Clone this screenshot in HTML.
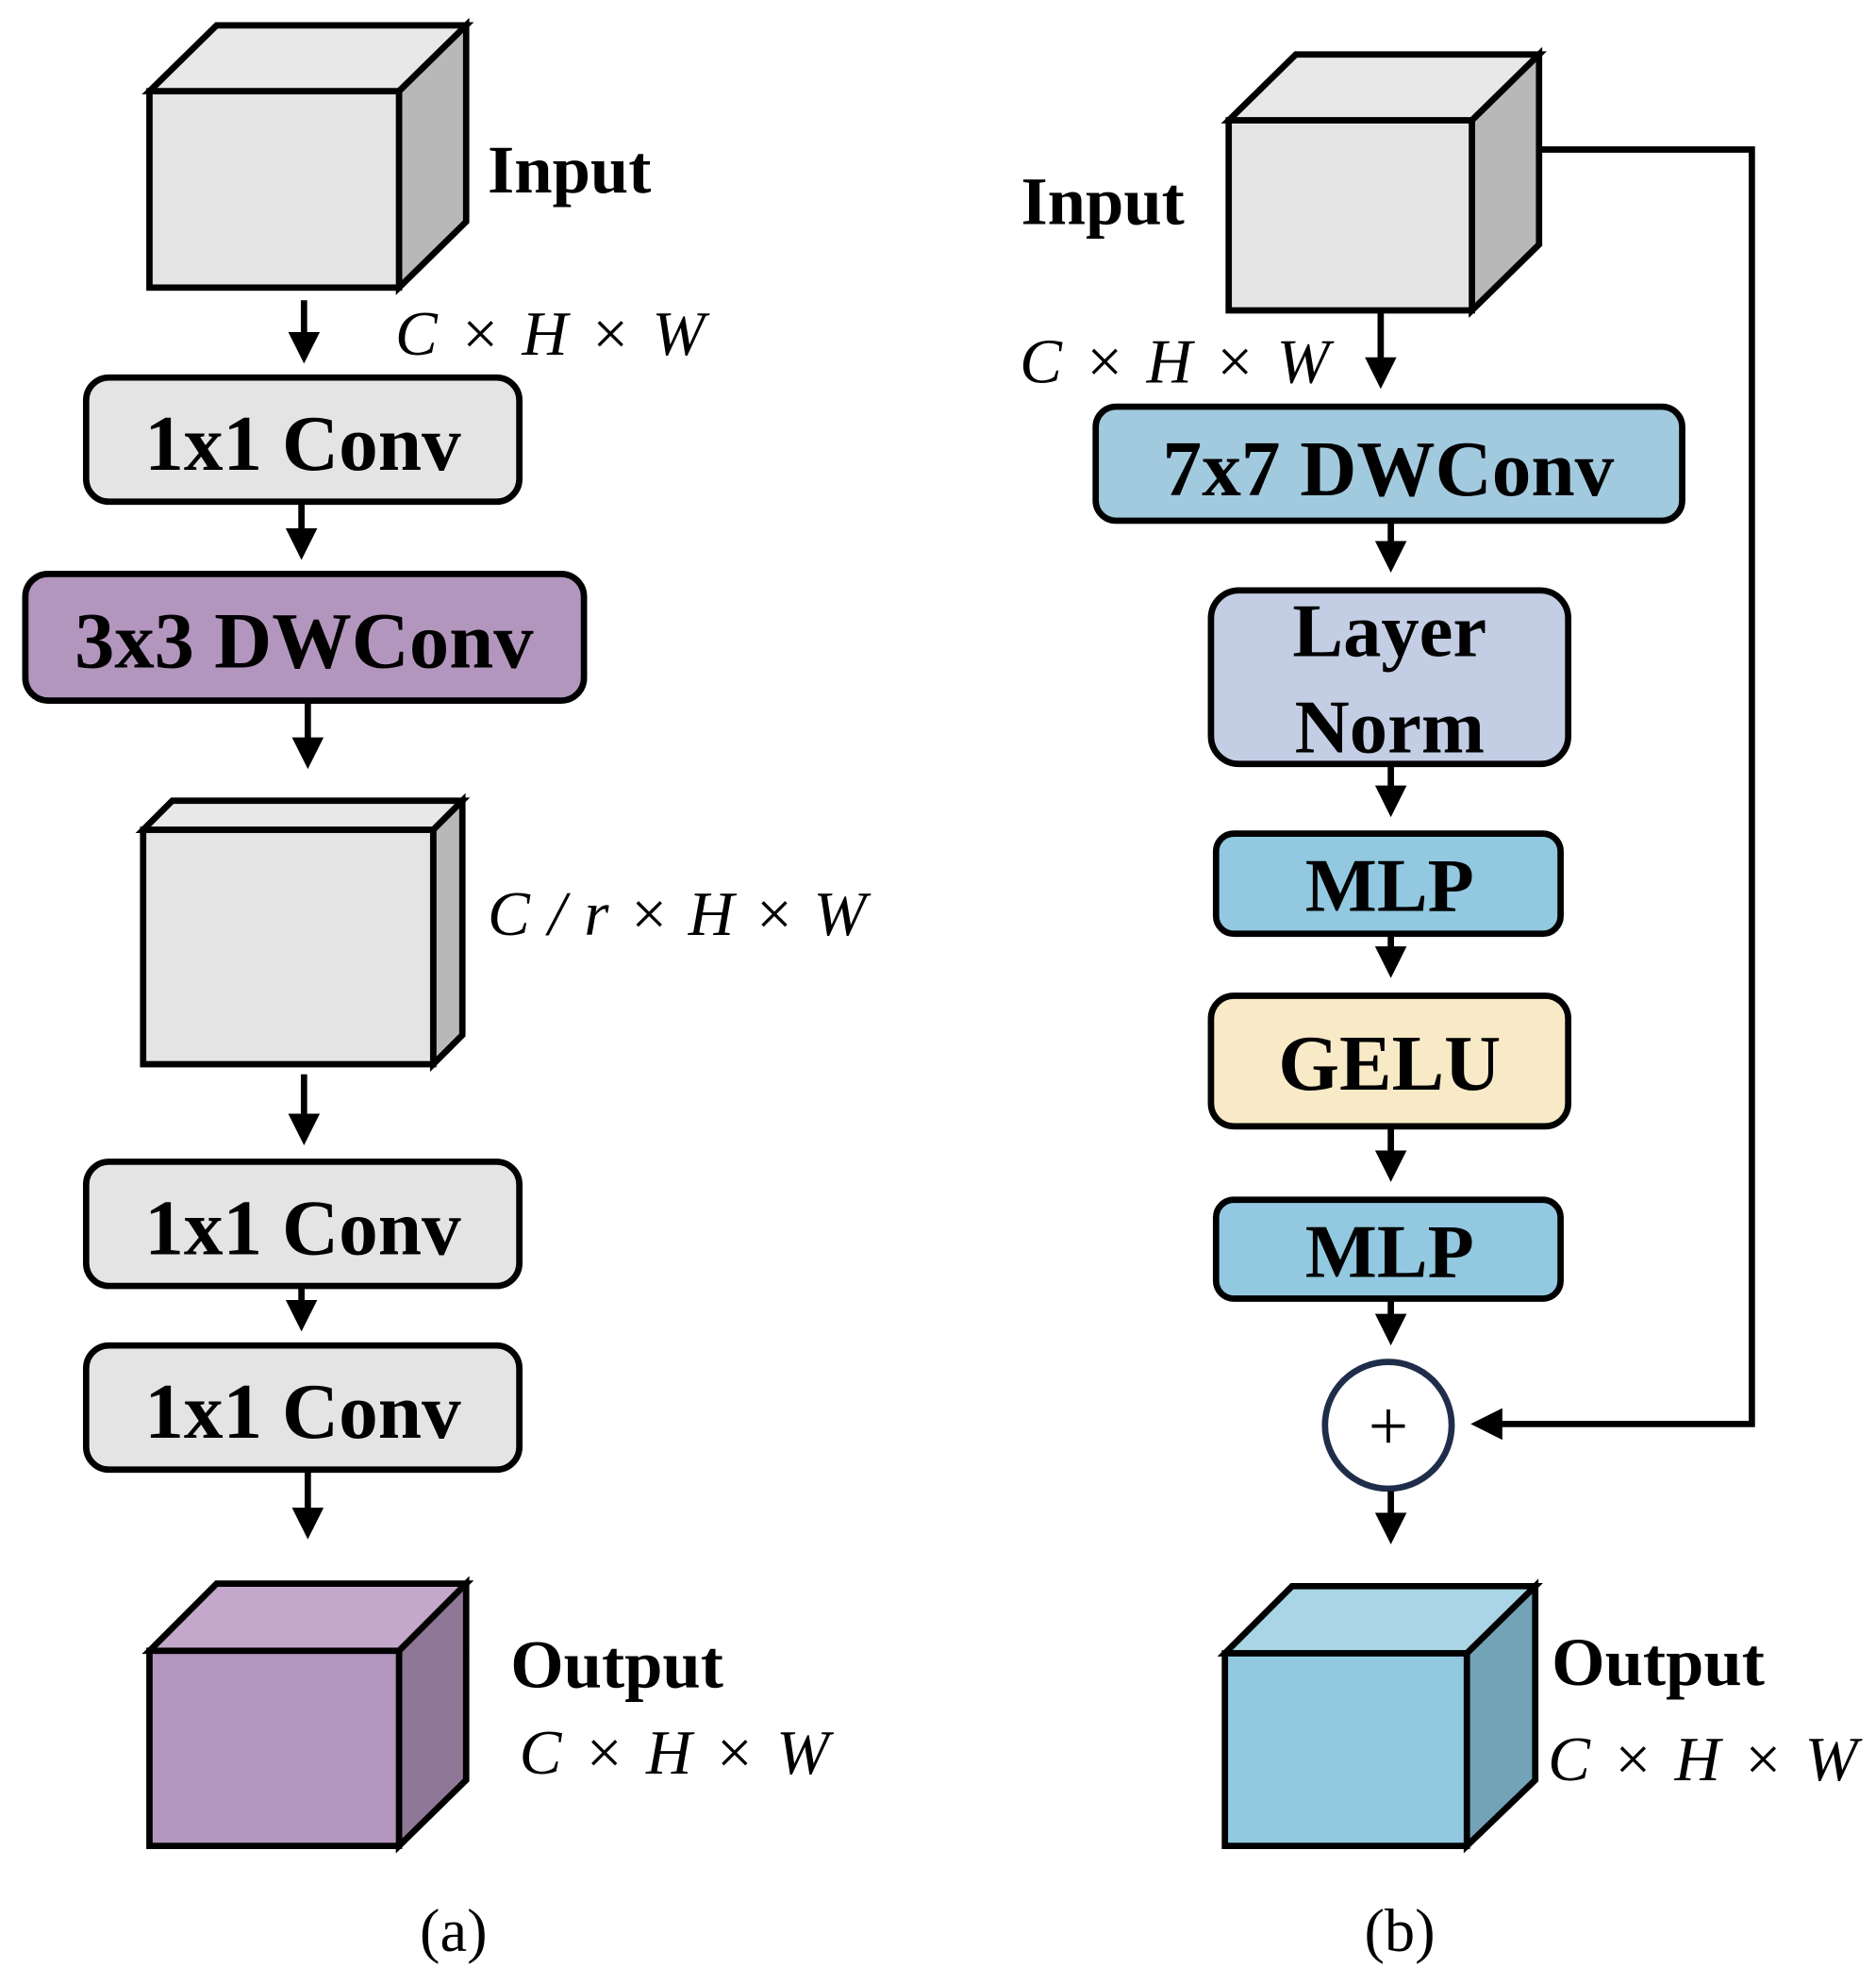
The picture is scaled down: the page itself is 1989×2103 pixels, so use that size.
<!DOCTYPE html>
<html><head><style>html,body{margin:0;padding:0;background:#fff}svg{display:block}</style></head>
<body>
<svg width="1989" height="2103" viewBox="0 0 1481 1566" preserveAspectRatio="none" xmlns="http://www.w3.org/2000/svg">
<defs>
<marker id="ah" markerWidth="5" markerHeight="5" refX="4" refY="2.5" orient="auto" markerUnits="strokeWidth"><path d="M0,0 L5,2.5 L0,5 z" fill="#000"/></marker>
</defs>
<style>
.b{font-family:"Liberation Serif",serif;font-weight:bold;fill:#000}
.m{font-family:"Liberation Serif",serif;font-style:italic;fill:#000;font-size:50px;letter-spacing:2px}
.bx{stroke:#000;stroke-width:5}
.ln{stroke:#000;stroke-width:5;fill:none}
</style>
<g stroke="#000" stroke-width="5" stroke-linejoin="miter">
<polygon points="118,72 171,20 368,20 315,72" fill="#e8e8e8"/>
<polygon points="315,72 368,20 368,175 315,227" fill="#b8b8b8"/>
<rect x="118" y="72" width="197" height="155" fill="#e4e4e4"/>
</g>
<text class="b" x="385" y="152" font-size="54">Input</text>
<text class="m" x="312" y="280">C × H × W</text>
<line class="ln" x1="240" y1="237" x2="240" y2="282" marker-end="url(#ah)"/>
<rect class="bx" x="68" y="298" width="342" height="98" rx="18" fill="#e4e4e4"/>
<text class="b" x="239" y="371" font-size="62" text-anchor="middle">1x1 Conv</text>
<line class="ln" x1="238" y1="398" x2="238" y2="437" marker-end="url(#ah)"/>
<rect class="bx" x="20" y="453" width="441" height="100" rx="18" fill="#b396be"/>
<text class="b" x="240" y="527" font-size="63" text-anchor="middle">3x3 DWConv</text>
<line class="ln" x1="243" y1="555" x2="243" y2="602" marker-end="url(#ah)"/>
<g stroke="#000" stroke-width="5">
<polygon points="113,655 136,632 365,632 342,655" fill="#e8e8e8"/>
<polygon points="342,655 365,632 365,817 342,840" fill="#b8b8b8"/>
<rect x="113" y="655" width="229" height="185" fill="#e4e4e4"/>
</g>
<text class="m" x="385" y="738" style="letter-spacing:1px">C / r × H × W</text>
<line class="ln" x1="240" y1="848" x2="240" y2="899" marker-end="url(#ah)"/>
<rect class="bx" x="68" y="917" width="342" height="98" rx="18" fill="#e4e4e4"/>
<text class="b" x="239" y="990" font-size="62" text-anchor="middle">1x1 Conv</text>
<line class="ln" x1="238" y1="1017" x2="238" y2="1046" marker-end="url(#ah)"/>
<rect class="bx" x="68" y="1062" width="342" height="98" rx="18" fill="#e4e4e4"/>
<text class="b" x="239" y="1135" font-size="62" text-anchor="middle">1x1 Conv</text>
<line class="ln" x1="243" y1="1162" x2="243" y2="1210" marker-end="url(#ah)"/>
<g stroke="#000" stroke-width="5">
<polygon points="118,1303 171,1250 368,1250 315,1303" fill="#c3a8cc"/>
<polygon points="315,1303 368,1250 368,1405 315,1457" fill="#8f7897"/>
<rect x="118" y="1303" width="197" height="154" fill="#b396be"/>
</g>
<text class="b" x="403" y="1332" font-size="54">Output</text>
<text class="m" x="410" y="1400">C × H × W</text>
<text x="358" y="1540" font-size="48" text-anchor="middle" font-family="Liberation Serif,serif">(a)</text>

<g stroke="#000" stroke-width="5">
<polygon points="970,95 1023,43 1215,43 1162,95" fill="#e8e8e8"/>
<polygon points="1162,95 1215,43 1215,193 1162,245" fill="#b8b8b8"/>
<rect x="970" y="95" width="192" height="150" fill="#e4e4e4"/>
</g>
<text class="b" x="806" y="177" font-size="54">Input</text>
<text class="m" x="805" y="302">C × H × W</text>
<line class="ln" x1="1090" y1="247" x2="1090" y2="302" marker-end="url(#ah)"/>
<polyline class="ln" points="1215,118 1383,118 1383,1124 1166,1124" marker-end="url(#ah)"/>
<rect class="bx" x="865" y="321" width="463" height="90" rx="16" fill="#a2cadf"/>
<text class="b" x="1096" y="391" font-size="62" text-anchor="middle">7x7 DWConv</text>
<line class="ln" x1="1098" y1="413" x2="1098" y2="447" marker-end="url(#ah)"/>
<rect class="bx" x="956" y="466" width="282" height="137" rx="22" fill="#c3cde4"/>
<text class="b" x="1097" y="518" font-size="60" text-anchor="middle">Layer</text>
<text class="b" x="1097" y="594" font-size="60" text-anchor="middle">Norm</text>
<line class="ln" x1="1098" y1="605" x2="1098" y2="640" marker-end="url(#ah)"/>
<rect class="bx" x="960" y="658" width="272" height="79" rx="14" fill="#92c8e0"/>
<text class="b" x="1097" y="719" font-size="60" text-anchor="middle">MLP</text>
<line class="ln" x1="1098" y1="739" x2="1098" y2="767" marker-end="url(#ah)"/>
<rect class="bx" x="956" y="786" width="282" height="103" rx="18" fill="#f8eac6"/>
<text class="b" x="1097" y="860" font-size="62" text-anchor="middle">GELU</text>
<line class="ln" x1="1098" y1="891" x2="1098" y2="928" marker-end="url(#ah)"/>
<rect class="bx" x="960" y="947" width="272" height="78" rx="14" fill="#92c8e0"/>
<text class="b" x="1097" y="1008" font-size="60" text-anchor="middle">MLP</text>
<line class="ln" x1="1098" y1="1027" x2="1098" y2="1057" marker-end="url(#ah)"/>
<circle cx="1096" cy="1125" r="50" fill="#fff" stroke="#1f2d4a" stroke-width="5"/>
<text x="1096" y="1144" font-size="56" text-anchor="middle" font-family="Liberation Serif,serif">+</text>
<line class="ln" x1="1098" y1="1177" x2="1098" y2="1214" marker-end="url(#ah)"/>
<g stroke="#000" stroke-width="5">
<polygon points="967,1305 1020,1252 1212,1252 1158,1305" fill="#a9d5e6"/>
<polygon points="1158,1305 1212,1252 1212,1405 1158,1457" fill="#73a3b6"/>
<rect x="967" y="1305" width="191" height="152" fill="#92c8e0"/>
</g>
<text class="b" x="1225" y="1330" font-size="54">Output</text>
<text class="m" x="1222" y="1405">C × H × W</text>
<text x="1105" y="1540" font-size="48" text-anchor="middle" font-family="Liberation Serif,serif">(b)</text>
</svg>
</body></html>
